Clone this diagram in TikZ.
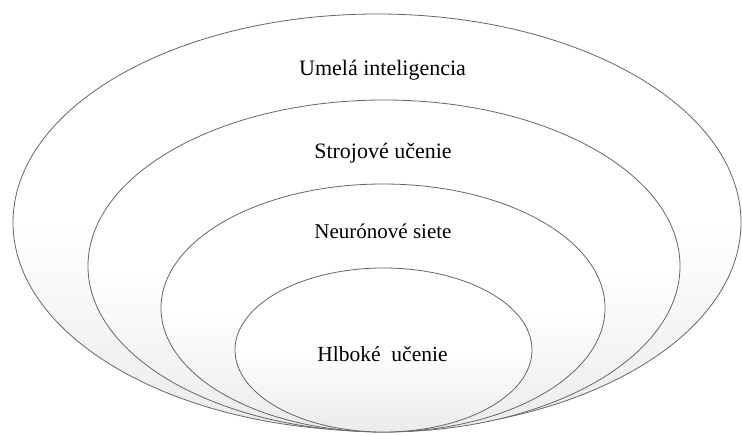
\documentclass[tikz,border=0pt]{standalone}
\usepackage{fontspec}
\setmainfont{Liberation Serif}
\begin{document}
\begin{tikzpicture}[x=1pt,y=-1pt,
  ring/.style={draw=black!60, line width=0.8pt, top color=white, bottom color=black!8, middle color=white},
  lbl/.style={font=\fontsize{22}{24}\selectfont, text=black, anchor=base, inner sep=0pt}]
\useasboundingbox (0,0) rectangle (742,436);
\path[ring] (377,222.5) ellipse [x radius=364, y radius=208.5];
\path[ring] (384,266) ellipse [x radius=296, y radius=166];
\path[ring] (383,308) ellipse [x radius=222, y radius=124];
\path[ring] (383.5,350) ellipse [x radius=148.5, y radius=82];
\node[lbl] (ai) at (382.5,76) {Umelá inteligencia};
\node[lbl] (ml) at (383,158) {Strojové učenie};
\node[lbl, font=\fontsize{21}{23}\selectfont] (nn) at (383,238) {Neurónové siete};
\node[lbl, font=\fontsize{21.5}{23}\selectfont] (dl) at (382.5,361) {Hlboké\ \ učenie};
\end{tikzpicture}
\end{document}
